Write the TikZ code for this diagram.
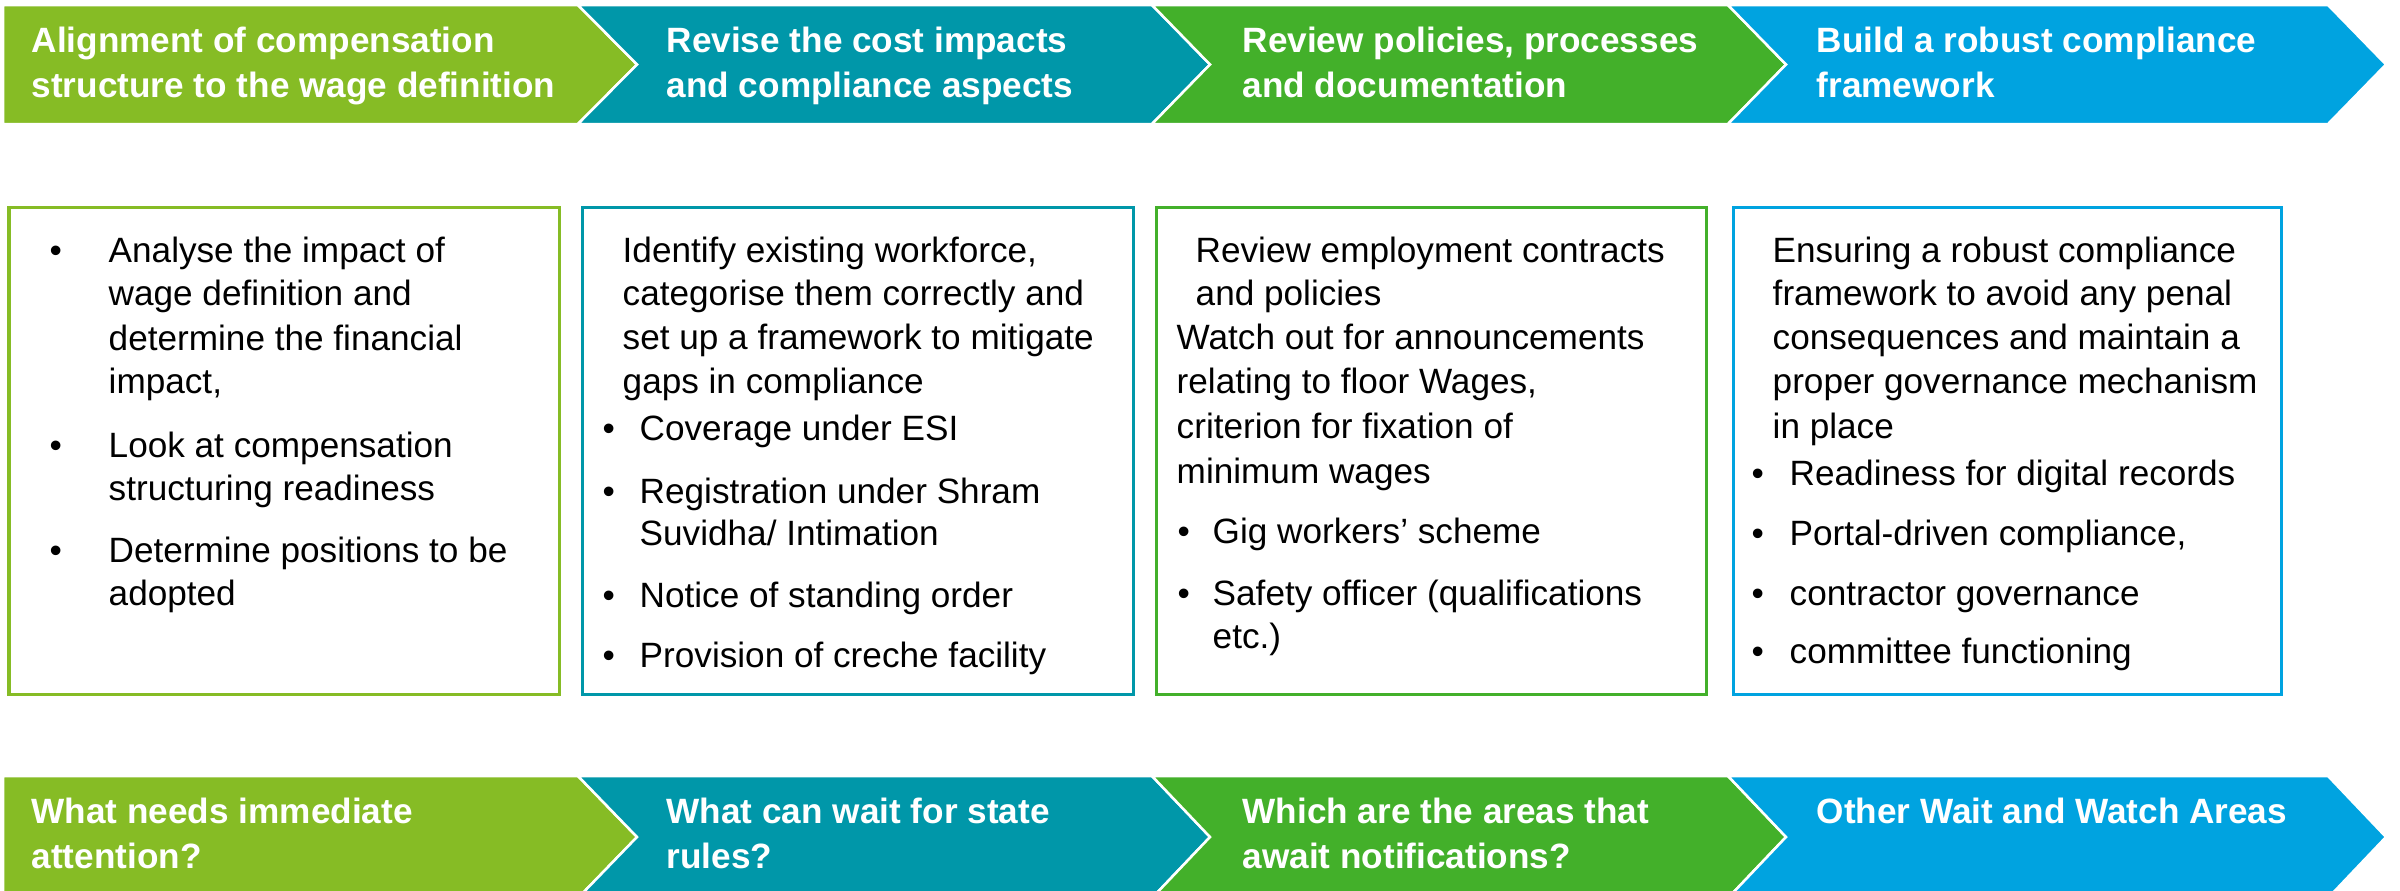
\documentclass[tikz,border=0pt]{standalone}
\usepackage{fontspec}
\setmainfont{Liberation Sans}
\definecolor{cLime}{HTML}{86BC25}
\definecolor{cTeal}{HTML}{0097A9}
\definecolor{cGreen}{HTML}{43B02A}
\definecolor{cBlue}{HTML}{00A3E0}
\begin{document}
\begin{tikzpicture}[x=0.01cm,y=-0.01cm,
  chev/.style={draw=white,line width=0.025cm,line join=miter},
  hd/.style={anchor=base west,inner sep=0pt,text=white,font=\fontsize{10}{12}\selectfont\bfseries},
  bd/.style={anchor=base west,inner sep=0pt,text=black,font=\fontsize{10}{12}\selectfont},
  card/.style={line width=0.03cm}]
\useasboundingbox (0,0) rectangle (2400,890);

% two rows of chevrons (top headings and bottom questions)
\foreach \ya/\ym/\yb in {5/64.5/124, 776/837/898}{
  \path[chev,fill=cLime]  (3,\ya) -- (578,\ya) -- (637,\ym) -- (578,\yb) -- (3,\yb) -- cycle;
  \path[chev,fill=cTeal]  (578,\ya) -- (1152,\ya) -- (1210,\ym) -- (1152,\yb) -- (578,\yb) -- (637,\ym) -- cycle;
  \path[chev,fill=cGreen] (1152,\ya) -- (1728,\ya) -- (1786,\ym) -- (1728,\yb) -- (1152,\yb) -- (1210,\ym) -- cycle;
  \path[chev,fill=cBlue]  (1728,\ya) -- (2328,\ya) -- (2386,\ym) -- (2328,\yb) -- (1728,\yb) -- (1786,\ym) -- cycle;
}

% headings
\node[hd] (h1a) at (31,52)   {Alignment of compensation};
\node[hd] (h1b) at (31,97)   {structure to the wage definition};
\node[hd] (h2a) at (666,52)  {Revise the cost impacts};
\node[hd] (h2b) at (666,97)  {and compliance aspects};
\node[hd] (h3a) at (1242,52) {Review policies, processes};
\node[hd] (h3b) at (1242,97) {and documentation};
\node[hd] (h4a) at (1816,52) {Build a robust compliance};
\node[hd] (h4b) at (1816,97) {framework};

% questions
\node[hd] (q1a) at (31,823)   {What needs immediate};
\node[hd] (q1b) at (31,868)   {attention?};
\node[hd] (q2a) at (666,823)  {What can wait for state};
\node[hd] (q2b) at (666,868)  {rules?};
\node[hd] (q3a) at (1242,823) {Which are the areas that};
\node[hd] (q3b) at (1242,868) {await notifications?};
\node[hd] (q4a) at (1816,823) {Other Wait and Watch Areas};

% content boxes
\draw[card,cLime]  (9,207)    rectangle (559,694);
\draw[card,cTeal]  (582,207)  rectangle (1133,694);
\draw[card,cGreen] (1156,207) rectangle (1706,694);
\draw[card,cBlue]  (1733,207) rectangle (2281,694);

% box 1
\node[bd] (d1a) at (49,262) {\textbullet};
\node[bd] (t1a) at (108,262) {Analyse the impact of};
\node[bd] (t1b) at (108,305) {wage definition and};
\node[bd] (t1c) at (108,350) {determine the financial};
\node[bd] (t1d) at (108,393) {impact,};
\node[bd] (d1b) at (49,457) {\textbullet};
\node[bd] (t1e) at (108,457) {Look at compensation};
\node[bd] (t1f) at (108,500) {structuring readiness};
\node[bd] (d1c) at (49,562) {\textbullet};
\node[bd] (t1g) at (108,562) {Determine positions to be};
\node[bd] (t1h) at (108,605) {adopted};

% box 2
\node[bd] (t2a) at (622,262) {Identify existing workforce,};
\node[bd] (t2b) at (622,305) {categorise them correctly and};
\node[bd] (t2c) at (622,349) {set up a framework to mitigate};
\node[bd] (t2d) at (622,393) {gaps in compliance};
\node[bd] (d2a) at (602,440) {\textbullet};
\node[bd] (t2e) at (639,440) {Coverage under ESI};
\node[bd] (d2b) at (602,503) {\textbullet};
\node[bd] (t2f) at (639,503) {Registration under Shram};
\node[bd] (t2g) at (639,545) {Suvidha/ Intimation};
\node[bd] (d2c) at (602,607) {\textbullet};
\node[bd] (t2h) at (639,607) {Notice of standing order};
\node[bd] (d2d) at (602,667) {\textbullet};
\node[bd] (t2i) at (639,667) {Provision of creche facility};

% box 3
\node[bd] (t3a) at (1195,262) {Review employment contracts};
\node[bd] (t3b) at (1195,305) {and policies};
\node[bd] (t3c) at (1176,349) {Watch out for announcements};
\node[bd] (t3d) at (1176,393) {relating to floor Wages,};
\node[bd] (t3e) at (1176,438) {criterion for fixation of};
\node[bd] (t3f) at (1176,483) {minimum wages};
\node[bd] (d3a) at (1177,543) {\textbullet};
\node[bd] (t3g) at (1212,543) {Gig workers’ scheme};
\node[bd] (d3b) at (1177,605) {\textbullet};
\node[bd] (t3h) at (1212,605) {Safety officer (qualifications};
\node[bd] (t3i) at (1212,648) {etc.)};

% box 4
\node[bd] (t4a) at (1772,262) {Ensuring a robust compliance};
\node[bd] (t4b) at (1772,305) {framework to avoid any penal};
\node[bd] (t4c) at (1772,349) {consequences and maintain a};
\node[bd] (t4d) at (1772,393) {proper governance mechanism};
\node[bd] (t4e) at (1772,438) {in place};
\node[bd] (d4a) at (1751,485) {\textbullet};
\node[bd] (t4f) at (1789,485) {Readiness for digital records};
\node[bd] (d4b) at (1751,545) {\textbullet};
\node[bd] (t4g) at (1789,545) {Portal-driven compliance,};
\node[bd] (d4c) at (1751,605) {\textbullet};
\node[bd] (t4h) at (1789,605) {contractor governance};
\node[bd] (d4d) at (1751,663) {\textbullet};
\node[bd] (t4i) at (1789,663) {committee functioning};
\end{tikzpicture}
\end{document}
